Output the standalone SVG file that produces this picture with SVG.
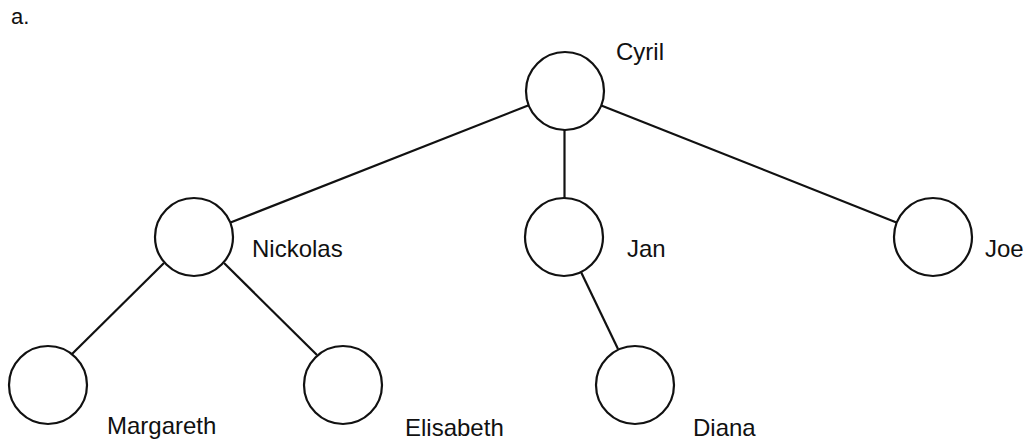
<svg xmlns="http://www.w3.org/2000/svg" width="1029" height="442" viewBox="0 0 1029 442">
<style>
.n{fill:#fff;stroke:#111;stroke-width:2.2}
.e{stroke:#111;stroke-width:2.2;fill:none}
.t{font-family:"Liberation Sans",Arial,sans-serif;font-size:24px;fill:#111}
</style>
<rect width="1029" height="442" fill="#fff"/>
<text class="t" x="11" y="24" style="font-size:22px">a.</text>
<g id="connectors">
<line class="e" x1="528.7" y1="105.3" x2="230.5" y2="222.5"/>
<line class="e" x1="564.5" y1="130" x2="564.5" y2="198"/>
<line class="e" x1="601.3" y1="105.4" x2="896.5" y2="222.5"/>
<line class="e" x1="164" y1="263" x2="72" y2="354"/>
<line class="e" x1="224" y1="263" x2="317" y2="355"/>
<line class="e" x1="581" y1="272" x2="618" y2="349"/>
</g>
<g id="cyril"><circle class="n" cx="565" cy="91" r="39"/><text class="t" x="616" y="60">Cyril</text></g>
<g id="nickolas"><circle class="n" cx="194" cy="237" r="39"/><text class="t" x="252" y="257">Nickolas</text></g>
<g id="jan"><circle class="n" cx="564" cy="237" r="39"/><text class="t" x="627" y="257">Jan</text></g>
<g id="joe"><circle class="n" cx="933" cy="237" r="39"/><text class="t" x="985" y="257">Joe</text></g>
<g id="margareth"><circle class="n" cx="48" cy="385" r="39"/><text class="t" x="107" y="434">Margareth</text></g>
<g id="elisabeth"><circle class="n" cx="343" cy="385" r="39"/><text class="t" x="405" y="436">Elisabeth</text></g>
<g id="diana"><circle class="n" cx="635" cy="385" r="39"/><text class="t" x="693" y="436">Diana</text></g>
</svg>
